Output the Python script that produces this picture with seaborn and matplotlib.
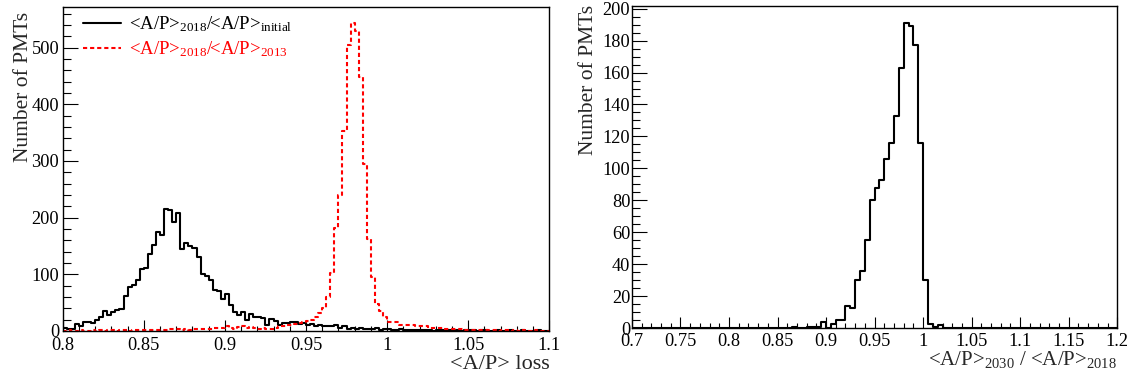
import numpy as np
import pandas as pd
import matplotlib
matplotlib.use("Agg")
import matplotlib.pyplot as plt
import matplotlib.ticker as mticker
import seaborn as sns

# ---------------- data ----------------
# left panel: bins of 0.0025 from 0.8 to 1.1 (120 bins)
left_lo, left_hi, left_nbins = 0.8, 1.1, 120
black_initial = [5, 4, 3, 12, 9, 15, 16, 14, 20, 25, 36, 29, 33, 37, 38, 62, 78, 82, 90, 109,
                 112, 136, 152, 174, 170, 215, 213, 192, 208, 145, 156, 150, 147, 130, 100, 97, 90, 73, 71, 56,
                 65, 46, 34, 28, 33, 19, 30, 25, 24, 23, 11, 21, 17, 11, 14, 14, 15, 16, 12, 14,
                 11, 12, 9, 11, 8, 9, 8, 10, 5, 9, 4, 5, 4, 6, 3, 4, 3, 5, 2, 3,
                 4, 2, 1, 3, 2, 1, 2, 1, 1, 2, 1, 0, 1, 2, 1, 1, 0, 1, 0, 1,
                 2, 1, 0, 1, 1, 0, 0, 1, 0, 0, 1, 0, 0, 1, 0, 0, 0, 1, 0, 0]
red_2013 = [0, 1, 0, 0, 1, 0, 0, 1, 0, 1, 0, 1, 1, 0, 1, 1, 0, 1, 1, 2,
            1, 1, 2, 1, 2, 2, 3, 4, 3, 2, 3, 2, 3, 4, 3, 3, 4, 5, 6, 6,
            8, 6, 4, 7, 8, 6, 7, 5, 4, 5, 3, 4, 6, 8, 9, 10, 11, 12, 14, 15,
            17, 20, 24, 31, 40, 60, 102, 181, 240, 352, 505, 544, 530, 449, 295, 162, 96, 48, 36, 24,
            16, 15, 15, 11, 10, 10, 10, 9, 8, 8, 6, 6, 5, 5, 4, 4, 3, 3, 3, 2,
            2, 2, 1, 2, 1, 1, 1, 0, 1, 1, 0, 1, 0, 1, 0, 0, 1, 0, 0, 0]

# right panel: bins of 0.005 from 0.7 to 1.2 (100 bins)
right_lo, right_hi, right_nbins = 0.7, 1.2, 100
ratio_2030 = ([0] * 33 +
              [1, 0, 0, 1, 1, 1, 4, 0, 3, 5, 5, 14, 13, 30, 36, 55, 80, 88, 93, 106,
               116, 133, 163, 191, 189, 177, 116, 30, 3, 1, 2] +
              [0] * 36)

label_black = "<A/P>$_{\\mathrm{2018}}$/<A/P>$_{\\mathrm{initial}}$"
label_red = "<A/P>$_{\\mathrm{2018}}$/<A/P>$_{\\mathrm{2013}}$"
xlabel_left = "<A/P> loss"
xlabel_right = "<A/P>$_{\\mathrm{2030}}$ / <A/P>$_{\\mathrm{2018}}$"
ylabel = "Number of PMTs"

# ---------------- style ----------------
sns.set_theme(style="ticks")
plt.rcParams["font.family"] = ["Liberation Serif", "DejaVu Serif"]
plt.rcParams["mathtext.fontset"] = "custom"
plt.rcParams["mathtext.rm"] = "Liberation Serif"
plt.rcParams["mathtext.it"] = "Liberation Serif:italic"
plt.rcParams["mathtext.bf"] = "Liberation Serif:bold"
plt.rcParams["axes.linewidth"] = 1.0
plt.rcParams["axes.edgecolor"] = "black"

fig = plt.figure(figsize=(11.36, 3.83), dpi=100)
ax1 = fig.add_axes([0.0552, 0.1358, 0.4283, 0.845])
ax2 = fig.add_axes([0.5563, 0.1428, 0.4272, 0.8415])

def hist(ax, lo, hi, n, counts, **kw):
    edges = np.linspace(lo, hi, n + 1)
    centers = 0.5 * (edges[:-1] + edges[1:])
    df = pd.DataFrame({"x": centers, "w": np.asarray(counts, float)})
    sns.histplot(data=df, x="x", weights="w", bins=n, binrange=(lo, hi),
                 element="step", fill=False, ax=ax, **kw)

hist(ax1, left_lo, left_hi, left_nbins, black_initial, color="black", linewidth=1.5,
     label=label_black)
hist(ax1, left_lo, left_hi, left_nbins, red_2013, color="red", linewidth=1.5,
     linestyle=(0, (2.0, 1.4)), label=label_red)
hist(ax2, right_lo, right_hi, right_nbins, ratio_2030, color="black", linewidth=1.5)

ax1.set_xlim(0.8, 1.1)
ax1.set_ylim(0, 571)
ax2.set_xlim(0.7, 1.2)
ax2.set_ylim(0, 201.6)

fmt = mticker.FuncFormatter(lambda v, p: "%g" % round(v, 4))
for ax in (ax1, ax2):
    for s in ax.spines.values():
        s.set_visible(True)
        s.set_linewidth(1.0)
        s.set_color("black")
    ax.xaxis.set_major_locator(mticker.MultipleLocator(0.05))
    ax.xaxis.set_minor_locator(mticker.MultipleLocator(0.01))
    ax.xaxis.set_major_formatter(fmt)
    ax.tick_params(axis="both", which="both", direction="in", top=False, right=False,
                   width=0.8, colors="black")
    ax.tick_params(axis="x", which="major", length=7.7, labelsize=13.2)
    ax.tick_params(axis="x", which="minor", length=3.6)
    ax.tick_params(axis="y", which="major", length=10.6, labelsize=13.2)
    ax.tick_params(axis="y", which="minor", length=5.5)
    ax.grid(False)

ax1.yaxis.set_major_locator(mticker.MultipleLocator(100))
ax1.yaxis.set_minor_locator(mticker.MultipleLocator(20))
ax2.yaxis.set_major_locator(mticker.MultipleLocator(20))
ax2.yaxis.set_minor_locator(mticker.MultipleLocator(5))
ax1.tick_params(axis="x", which="major", pad=4.6)
ax1.tick_params(axis="y", which="major", pad=2.5)
ax2.tick_params(axis="x", which="major", pad=3.4)
ax2.tick_params(axis="y", which="major", pad=1.2)

ax1.set_xlabel(xlabel_left, loc="right", fontsize=16)
ax1.xaxis.set_label_coords(1.0, -0.075)
ax2.set_xlabel(xlabel_right, loc="right", fontsize=15)
ax2.xaxis.set_label_coords(1.0, -0.065)
ax1.set_ylabel(ylabel, loc="top", fontsize=15.5)
ax1.yaxis.set_label_coords(-0.061, 0.985)
ax2.set_ylabel(ylabel, loc="top", fontsize=15.5)
ax2.yaxis.set_label_coords(-0.070, 1.003)

leg = ax1.legend(loc="upper left", bbox_to_anchor=(0.035, 0.99), frameon=False,
                 fontsize=13.5, handlelength=2.0, handletextpad=0.45,
                 labelspacing=0.3, borderpad=0.2, borderaxespad=0,
                 labelcolor="linecolor")

fig.savefig("out.png", dpi=100)
